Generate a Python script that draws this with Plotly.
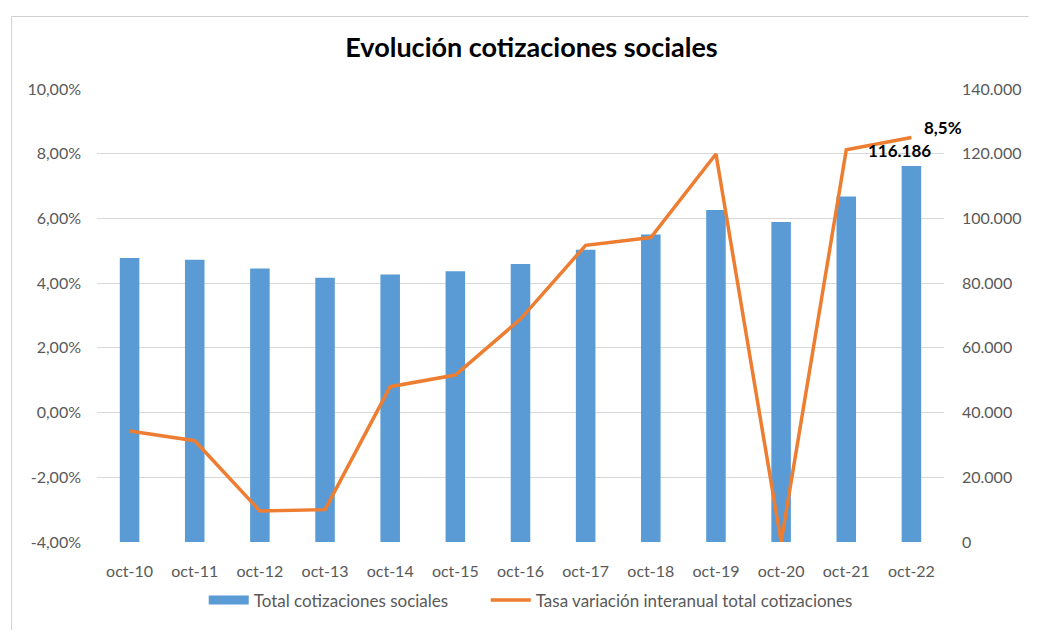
import plotly.graph_objects as go

categories = ["oct-10", "oct-11", "oct-12", "oct-13", "oct-14", "oct-15", "oct-16",
              "oct-17", "oct-18", "oct-19", "oct-20", "oct-21", "oct-22"]
total_cotizaciones = [87800, 87200, 84500, 81700, 82700, 83700, 85900,
                      90300, 95000, 102600, 98900, 106800, 116186]
tasa_variacion = [-0.57, -0.87, -3.04, -3.00, 0.80, 1.16, 2.89,
                  5.17, 5.41, 7.99, -4.00, 8.12, 8.50]
tasa_frac = [v / 100 for v in tasa_variacion]

left_ticks = [-0.04, -0.02, 0, 0.02, 0.04, 0.06, 0.08, 0.10]
left_tick_labels = ["-4,00%", "-2,00%", "0,00%", "2,00%", "4,00%", "6,00%", "8,00%", "10,00%"]
right_ticks = [0, 20000, 40000, 60000, 80000, 100000, 120000, 140000]
right_tick_labels = ["0", "20.000", "40.000", "60.000", "80.000", "100.000", "120.000", "140.000"]

FONT = "Lato"
GREY = "#595959"
BLUE = "#5B9BD5"
ORANGE = "#ED7D31"

fig = go.Figure()
# bars on the base (right-side) axis so the line, on the overlay axis, is drawn on top
fig.add_trace(go.Bar(
    x=categories, y=total_cotizaciones, name="Total cotizaciones sociales",
    marker=dict(color=BLUE, line=dict(width=0)), yaxis="y", width=0.3,
    showlegend=False,
))
# legend-only entry to mimic the wide rectangle swatch
fig.add_trace(go.Scatter(
    x=[categories[0]], y=[None], name="Total cotizaciones sociales", mode="lines",
    line=dict(color=BLUE, width=9), yaxis="y", legend="legend",
))
fig.add_trace(go.Scatter(
    x=categories, y=tasa_frac, name="Tasa variación interanual total cotizaciones",
    mode="lines", line=dict(color=ORANGE, width=3.5), yaxis="y2", cliponaxis=False,
    legend="legend2",
))

fig.add_annotation(x=categories[-1], y=tasa_frac[-1], xref="x", yref="y2",
                   text="<b>8,5%</b>", showarrow=False, xshift=32, yshift=10,
                   font=dict(family=FONT, size=17, color="#000000"))
fig.add_annotation(x=categories[-1], y=total_cotizaciones[-1], xref="x", yref="y",
                   text="<b>%s</b>" % f"{total_cotizaciones[-1]:,}".replace(",", "."),
                   showarrow=False, xshift=-12, yshift=16,
                   font=dict(family=FONT, size=17, color="#000000"))

# horizontal category axis line at 0%
fig.add_shape(type="line", xref="paper", yref="y2", x0=0, x1=1, y0=0, y1=0,
              line=dict(color="#bfbfbf", width=1), layer="below")
# outer sheet borders
fig.add_shape(type="line", xref="paper", yref="paper", x0=-0.1008, x1=1.1,
              y0=1.16, y1=1.16, line=dict(color="#d0d0d0", width=1))
fig.add_shape(type="line", xref="paper", yref="paper", x0=-0.1008, x1=-0.1008,
              y0=-0.2, y1=1.16, line=dict(color="#d0d0d0", width=1))

legend_font = dict(family=FONT, size=17, color=GREY)

fig.update_layout(
    width=1025, height=622,
    margin=dict(l=89, r=73, t=81, b=75),
    paper_bgcolor="white", plot_bgcolor="white",
    separators=",.",
    title=dict(text="<b>Evolución cotizaciones sociales</b>", xref="paper", x=0.513,
               xanchor="center", y=0.937, yanchor="middle",
               font=dict(family=FONT, size=27, color="#000000")),
    font=dict(family=FONT, size=16, color=GREY),
    showlegend=True,
    legend=dict(orientation="h", x=0.126, xanchor="left", y=-0.129, yanchor="middle",
                font=legend_font, itemwidth=40, bgcolor="rgba(0,0,0,0)"),
    legend2=dict(orientation="h", x=0.459, xanchor="left", y=-0.129, yanchor="middle",
                 font=legend_font, itemwidth=40, bgcolor="rgba(0,0,0,0)"),
    xaxis=dict(type="category", categoryorder="array", categoryarray=categories,
               range=[-0.5, len(categories) - 0.5], autorange=False,
               showgrid=False, showline=False, ticks="", tickfont=dict(size=16, color=GREY),
               ticklabelstandoff=18),
    yaxis=dict(range=[0, 140000], tickvals=right_ticks, ticktext=right_tick_labels,
               side="right", showgrid=True, gridcolor="#d9d9d9", gridwidth=1,
               zeroline=False, showline=False, ticks="", ticklabelstandoff=17,
               tickfont=dict(size=16, color=GREY)),
    yaxis2=dict(range=[-0.04, 0.10], tickvals=left_ticks, ticktext=left_tick_labels,
                overlaying="y", side="left", showgrid=False, zeroline=False,
                showline=False, ticks="", ticklabelstandoff=15,
                tickfont=dict(size=16, color=GREY)),
)

fig.write_html("out.html")
